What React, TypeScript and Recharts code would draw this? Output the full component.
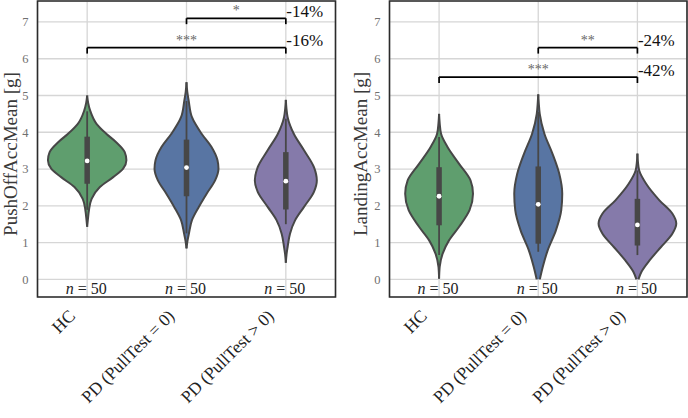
import React from 'react';
import {
  ComposedChart,
  Area,
  XAxis,
  YAxis,
  CartesianGrid,
  ReferenceLine,
  ReferenceDot,
  ReferenceArea,
} from 'recharts';

// ---------- shared ----------
const groups = ['HC', 'PD (PullTest = 0)', 'PD (PullTest > 0)'];
const nCounts = [50, 50, 50];
const yTicks = [0, 1, 2, 3, 4, 5, 6, 7];
const xTicks = [0, 1, 2];
const violinColors = ['#5f9e6e', '#5875a3', '#857aaa'];

// ---------- PushOffAccMean panel ----------
// violin profiles: [value, half width (in category units)]
const pushHC = [
  [1.43, 0], [1.7, 0.01], [1.88, 0.018], [2.19, 0.045], [2.51, 0.128], [2.78, 0.262],
  [3.01, 0.362], [3.24, 0.395], [3.46, 0.378], [3.73, 0.292], [3.96, 0.192],
  [4.23, 0.094], [4.59, 0.03], [4.8, 0.01], [5.0, 0],
];
const pushPD0 = [
  [0.84, 0], [1.05, 0.01], [1.24, 0.024], [1.61, 0.055], [1.97, 0.124], [2.33, 0.203],
  [2.69, 0.288], [3.01, 0.322], [3.24, 0.312], [3.6, 0.252], [3.96, 0.152],
  [4.41, 0.055], [4.86, 0.022], [5.1, 0.008], [5.36, 0],
];
const pushPD1 = [
  [0.45, 0], [0.7, 0.008], [0.88, 0.018], [1.24, 0.042], [1.61, 0.094], [1.97, 0.183],
  [2.38, 0.283], [2.69, 0.312], [3.05, 0.283], [3.51, 0.183], [3.96, 0.08],
  [4.41, 0.018], [4.65, 0.006], [4.88, 0],
];
const pushQ1 = [2.6, 2.26, 1.9];
const pushQ3 = [3.88, 3.8, 3.46];
const pushWhiskerLo = [1.89, 1.25, 1.5];
const pushWhiskerHi = [4.57, 4.85, 4.37];
const pushMedian = [3.22, 3.04, 2.67];
const pushBracketFrom = [1, 0];
const pushBracketTo = [2, 2];
const pushBracketLevel = [7.1, 6.3];
const pushStars = ['*', '***'];
const pushChange = ['-14%', '-16%'];

// ---------- LandingAccMean panel ----------
const landHC = [
  [0.02, 0], [0.34, 0.006], [0.7, 0.036], [1.06, 0.1], [1.43, 0.202], [1.88, 0.307],
  [2.33, 0.342], [2.69, 0.317], [3.14, 0.202], [3.6, 0.085], [3.96, 0.02],
  [4.25, 0.006], [4.5, 0],
];
const landPD0 = [
  [0.0, 0.016], [0.34, 0.046], [0.79, 0.095], [1.33, 0.178], [1.88, 0.232], [2.33, 0.242],
  [2.87, 0.212], [3.42, 0.143], [3.96, 0.062], [4.5, 0.015], [4.8, 0.005], [5.03, 0],
];
const landPD1 = [
  [0.0, 0.01], [0.2, 0.04], [0.52, 0.124], [0.88, 0.238], [1.24, 0.352], [1.52, 0.392],
  [1.79, 0.352], [2.15, 0.222], [2.6, 0.088], [2.96, 0.018], [3.2, 0.005], [3.42, 0],
];
const landQ1 = [1.47, 0.97, 0.92];
const landQ3 = [3.05, 3.07, 2.19];
const landWhiskerLo = [0.66, 0.75, 0.66];
const landWhiskerHi = [3.87, 4.55, 2.96];
const landMedian = [2.26, 2.04, 1.48];
const landBracketFrom = [1, 0];
const landBracketTo = [2, 2];
const landBracketLevel = [6.3, 5.5];
const landStars = ['**', '***'];
const landChange = ['-24%', '-42%'];

// ---------- styling constants ----------
const FONT = "'Liberation Serif', serif";
const Y_DOMAIN: [number, number] = [-0.48, 7.57];
const X_DOMAIN: [number, number] = [-0.5, 2.5];
const BRACKET_DROP = 0.16;
const OUTLINE = '#474747';

type Row = { y: number; [k: string]: any };

function buildRows(profiles: number[][][]): Row[] {
  const rows: Row[] = [];
  profiles.forEach((prof, g) => {
    prof.forEach(([y, w]) => {
      rows.push({ y, ['v' + g]: [g - w, g + w] });
    });
  });
  rows.sort((a, b) => a.y - b.y);
  return rows;
}

const XTick = (props: any) => {
  const { x, y, payload } = props;
  const i = Math.round(payload.value);
  return (
    <g>
      <text
        x={x - 1}
        y={y - 3}
        textAnchor="middle"
        fontFamily={FONT}
        fontSize={16}
        fill="#222"
      >
        <tspan fontStyle="italic">n</tspan>
        <tspan> = {nCounts[i]}</tspan>
      </text>
      <text
        transform={`translate(${x - 11}, ${y + 20}) rotate(-45)`}
        textAnchor="end"
        fontFamily={FONT}
        fontSize={17.5}
        fill="#222"
      >
        {groups[i]}
      </text>
    </g>
  );
};

type PanelProps = {
  title: string;
  profiles: number[][][];
  q1: number[];
  q3: number[];
  wLo: number[];
  wHi: number[];
  med: number[];
  bFrom: number[];
  bTo: number[];
  bLevel: number[];
  stars: string[];
  change: string[];
  yAxisWidth: number;
  marginRight: number;
  labelX: number;
};

function Panel(p: PanelProps) {
  const rows = buildRows(p.profiles);
  return (
    <ComposedChart
      width={344}
      height={418}
      layout="vertical"
      data={rows}
      margin={{ top: 1, right: p.marginRight, bottom: 0, left: 0 }}
      style={{ fontFamily: FONT }}
    >
      <CartesianGrid stroke="#d6d6d6" strokeWidth={1.3} />
      <XAxis
        type="number"
        domain={X_DOMAIN}
        allowDataOverflow
        ticks={xTicks}
        interval={0}
        height={121}
        tickSize={0}
        tickMargin={0}
        axisLine={false}
        tickLine={false}
        tick={<XTick />}
      />
      <YAxis
        type="number"
        dataKey="y"
        domain={Y_DOMAIN}
        reversed
        allowDataOverflow
        ticks={yTicks}
        interval={0}
        width={p.yAxisWidth}
        tickSize={0}
        tickMargin={9}
        axisLine={false}
        tickLine={false}
        tick={{ fontFamily: FONT, fontSize: 12.5, fill: '#707070' }}
        label={(lp: any) => {
          const vb = lp.viewBox || {};
          const cy = (vb.y ?? 1) + (vb.height ?? 296) / 2 + 5;
          return (
            <text
              transform={`translate(${p.labelX}, ${cy}) rotate(-90)`}
              textAnchor="middle"
              fontFamily={FONT}
              fontSize={19}
              fill="#3a3a3a"
            >
              {p.title}
            </text>
          );
        }}
      />
      {violinColors.map((c, g) => (
        <Area
          key={'v' + g}
          type="monotone"
          dataKey={(r: Row) => r['v' + g] ?? [null, null]}
          fill={c}
          fillOpacity={1}
          stroke={OUTLINE}
          strokeWidth={2}
          connectNulls
          isAnimationActive={false}
          dot={false}
          activeDot={false}
        />
      ))}
      {xTicks.map((g) => (
        <ReferenceLine
          key={'w' + g}
          segment={[
            { x: g, y: p.wLo[g] },
            { x: g, y: p.wHi[g] },
          ]}
          stroke={OUTLINE}
          strokeWidth={1.8}
        />
      ))}
      {xTicks.map((g) => (
        <ReferenceLine
          key={'b' + g}
          segment={[
            { x: g, y: p.q1[g] },
            { x: g, y: p.q3[g] },
          ]}
          stroke={OUTLINE}
          strokeWidth={5.5}
        />
      ))}
      {xTicks.map((g) => (
        <ReferenceDot
          key={'m' + g}
          x={g}
          y={p.med[g]}
          r={2.4}
          fill="#ffffff"
          stroke="none"
        />
      ))}
      {p.bLevel.map((h, k) => (
        <ReferenceLine
          key={'bh' + k}
          segment={[
            { x: p.bFrom[k], y: h },
            { x: p.bTo[k], y: h },
          ]}
          stroke="#000"
          strokeWidth={1.7}
        />
      ))}
      {p.bLevel.map((h, k) => (
        <ReferenceLine
          key={'bl' + k}
          segment={[
            { x: p.bFrom[k], y: h - BRACKET_DROP },
            { x: p.bFrom[k], y: h },
          ]}
          stroke="#000"
          strokeWidth={1.7}
        />
      ))}
      {p.bLevel.map((h, k) => (
        <ReferenceLine
          key={'br' + k}
          segment={[
            { x: p.bTo[k], y: h - BRACKET_DROP },
            { x: p.bTo[k], y: h },
          ]}
          stroke="#000"
          strokeWidth={1.7}
        />
      ))}
      {p.bLevel.map((h, k) => (
        <ReferenceDot
          key={'st' + k}
          x={(p.bFrom[k] + p.bTo[k]) / 2}
          y={h}
          r={0}
          shape={(sp: any) => (
            <text
              x={sp.cx}
              y={sp.cy - 3}
              textAnchor="middle"
              fontFamily={FONT}
              fontSize={14}
              fill="#666"
            >
              {p.stars[k]}
            </text>
          )}
        />
      ))}
      {p.bLevel.map((h, k) => (
        <ReferenceDot
          key={'pc' + k}
          x={p.bTo[k]}
          y={h}
          r={0}
          shape={(sp: any) => (
            <text
              x={sp.cx + 0.5}
              y={sp.cy - 1.5}
              textAnchor="start"
              fontFamily={FONT}
              fontSize={17}
              fill="#111"
            >
              {p.change[k]}
            </text>
          )}
        />
      ))}
      <ReferenceArea
        x1={X_DOMAIN[0]}
        x2={X_DOMAIN[1]}
        y1={Y_DOMAIN[0]}
        y2={Y_DOMAIN[1]}
        fill="none"
        fillOpacity={0}
        stroke="#2b2b2b"
        strokeWidth={1.6}
        strokeOpacity={1}
      />
    </ComposedChart>
  );
}

export default function App() {
  return (
    <div
      style={{
        position: 'absolute',
        left: 0,
        top: 0,
        width: 688,
        height: 418,
        background: '#fff',
        display: 'flex',
        flexDirection: 'row',
      }}
    >
      <Panel
        title="PushOffAccMean [g]"
        profiles={[pushHC, pushPD0, pushPD1]}
        q1={pushQ1}
        q3={pushQ3}
        wLo={pushWhiskerLo}
        wHi={pushWhiskerHi}
        med={pushMedian}
        bFrom={pushBracketFrom}
        bTo={pushBracketTo}
        bLevel={pushBracketLevel}
        stars={pushStars}
        change={pushChange}
        yAxisWidth={37.5}
        marginRight={8.5}
        labelX={16.5}
      />
      <Panel
        title="LandingAccMean [g]"
        profiles={[landHC, landPD0, landPD1]}
        q1={landQ1}
        q3={landQ3}
        wLo={landWhiskerLo}
        wHi={landWhiskerHi}
        med={landMedian}
        bFrom={landBracketFrom}
        bTo={landBracketTo}
        bLevel={landBracketLevel}
        stars={landStars}
        change={landChange}
        yAxisWidth={45.5}
        marginRight={1}
        labelX={22.5}
      />
    </div>
  );
}
